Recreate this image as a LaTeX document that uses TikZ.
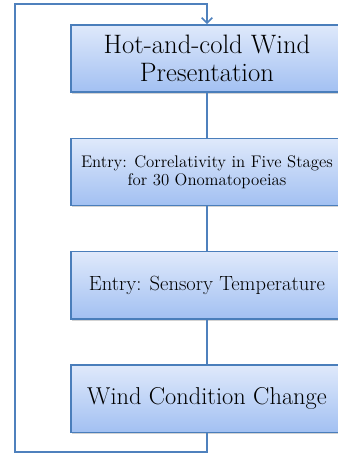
\documentclass[tikz,border=0pt]{standalone}
\usetikzlibrary{arrows.meta,positioning,shadows}
\definecolor{flowLine}{HTML}{4F81BD}
\definecolor{flowEdge}{HTML}{4A7EBB}
\definecolor{flowTop}{HTML}{DFE9FB}
\definecolor{flowBottom}{HTML}{A2C0F2}

\begin{document}
\begin{tikzpicture}[x=0.75pt,y=0.75pt,node distance=33.5pt]
      \tikzstyle{stage}=[draw=flowEdge,line width=1.1pt,top color=flowTop,bottom color=flowBottom,
                         minimum height=50.5pt,minimum width=204pt,align=center,inner sep=2pt,
                         drop shadow={shadow xshift=0.8pt,shadow yshift=-1.2pt,opacity=0.35}]
      \tikzstyle{link}=[draw=flowLine,line width=1.2pt]
      \useasboundingbox (0,0) rectangle (338,454);
      \clip (0,0) rectangle (338,454);

      \node[stage,font=\fontsize{20}{21.5}\selectfont] (wind) at (207,395.5) {Hot-and-cold Wind\\Presentation};
      \node[stage,below=of wind,font=\fontsize{12.6}{13.5}\selectfont] (corr) {Entry: Correlativity in Five Stages\\for 30 Onomatopoeias};
      \node[stage,below=of corr,font=\fontsize{15.4}{17}\selectfont] (temp) {Entry: Sensory Temperature};
      \node[stage,below=of temp,font=\fontsize{18.3}{20}\selectfont] (change) {Wind Condition Change};

      \coordinate (loopA) at (207,2);
      \coordinate (loopB) at (15,2);
      \coordinate (loopC) at (15,450);
      \coordinate (loopD) at (207,450);

      \draw[link] (wind)--(corr);
      \draw[link] (corr)--(temp);
      \draw[link] (temp)--(change);
      \draw[link,-{Straight Barb[length=4pt,width=8pt]}] (change.south)--(loopA)--(loopB)--(loopC)--(loopD)--(wind.north);
    \end{tikzpicture}
\end{document}
